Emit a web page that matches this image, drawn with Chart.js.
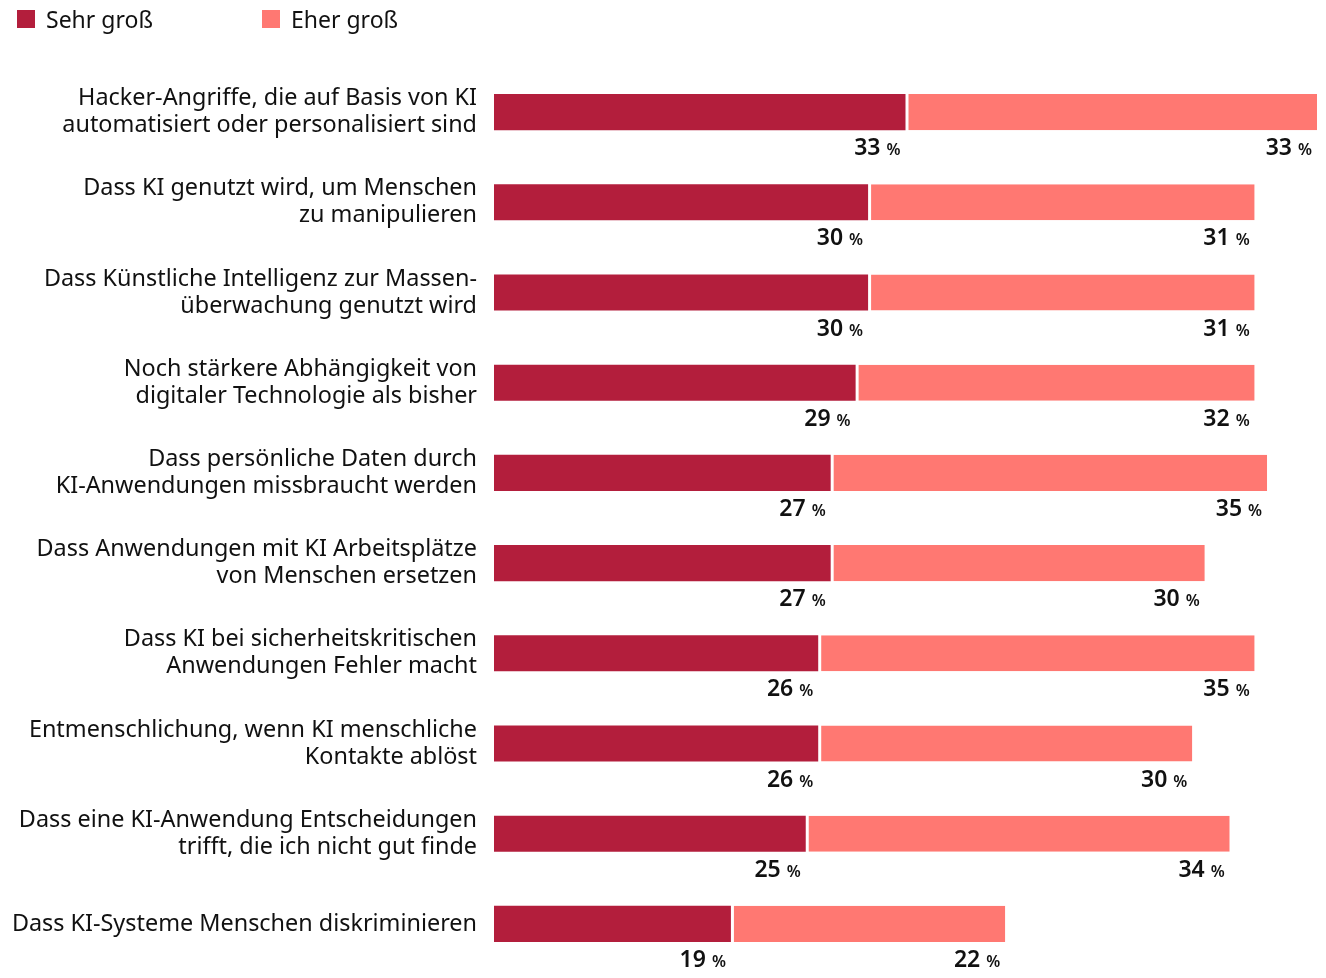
<!DOCTYPE html>
<html lang="de">
<head>
<meta charset="utf-8">
<script src="https://cdn.jsdelivr.net/npm/chart.js@4"></script>
<style>
  html, body { margin: 0; padding: 0; background: #fff; }
  #wrap { width: 1326px; height: 978px; position: relative; }
</style>
</head>
<body>
<div id="wrap"><canvas id="chart"></canvas></div>
<script>
// Kategorien (mehrzeilig wie im Original)
const categories = [
    ["Hacker-Angriffe, die auf Basis von KI", "automatisiert oder personalisiert sind"],
    ["Dass KI genutzt wird, um Menschen", "zu manipulieren"],
    ["Dass Künstliche Intelligenz zur Massen-", "überwachung genutzt wird"],
    ["Noch stärkere Abhängigkeit von", "digitaler Technologie als bisher"],
    ["Dass persönliche Daten durch", "KI-Anwendungen missbraucht werden"],
    ["Dass Anwendungen mit KI Arbeitsplätze", "von Menschen ersetzen"],
    ["Dass KI bei sicherheitskritischen", "Anwendungen Fehler macht"],
    ["Entmenschlichung, wenn KI menschliche", "Kontakte ablöst"],
    ["Dass eine KI-Anwendung Entscheidungen", "trifft, die ich nicht gut finde"],
    "Dass KI-Systeme Menschen diskriminieren"
];

const sehrGross = [33, 30, 30, 29, 27, 27, 26, 26, 25, 19];
const eherGross = [33, 31, 31, 32, 35, 30, 35, 30, 34, 22];

const seriesNames = ["Sehr groß", "Eher groß"];
const seriesColors = ["#b31e3c", "#ff7872"];

const FONT = "'Noto Sans', sans-serif";

// 🔹 Legende oben links
const legendPlugin = {
    id: "topLegend",
    afterDraw(chart) {
        const ctx = chart.ctx;
        const xs = [17, 262];
        ctx.save();
        ctx.font = "23px " + FONT;
        ctx.textBaseline = "alphabetic";
        ctx.textAlign = "left";
        seriesNames.forEach((name, i) => {
            ctx.fillStyle = seriesColors[i];
            ctx.fillRect(xs[i], 10, 18, 18);
            ctx.fillStyle = "#111";
            ctx.fillText(name, xs[i] + 29, 28);
        });
        ctx.restore();
    }
};

// 🔹 Werte unter den Balken, rechtsbündig am Balkenende
const valueLabels = {
    id: "valueLabels",
    afterDatasetsDraw(chart) {
        const ctx = chart.ctx;
        ctx.save();
        ctx.fillStyle = "#111";
        ctx.textBaseline = "alphabetic";
        ctx.textAlign = "right";
        chart.data.datasets.forEach((ds, di) => {
            const meta = chart.getDatasetMeta(di);
            meta.data.forEach((bar, i) => {
                const right = bar.x - 5;
                const base = bar.y + bar.height / 2 + 25;
                ctx.font = "600 16px " + FONT;
                ctx.fillText("%", right, base);
                const pw = ctx.measureText("%").width;
                ctx.font = "600 23px " + FONT;
                ctx.fillText(String(ds.data[i]), right - pw - 6, base);
            });
        });
        ctx.restore();
    }
};

new Chart(document.getElementById("chart"), {
    type: "bar",
    data: {
        labels: categories,
        datasets: [
            {
                label: seriesNames[0],
                data: sehrGross,
                backgroundColor: seriesColors[0],
                borderWidth: 0
            },
            {
                label: seriesNames[1],
                data: eherGross,
                backgroundColor: seriesColors[1],
                borderColor: "#ffffff",
                borderWidth: { left: 3, right: 0, top: 0, bottom: 0 },
                borderSkipped: false
            }
        ]
    },
    options: {
        indexAxis: "y",
        responsive: true,
        maintainAspectRatio: false,
        animation: false,
        layout: { padding: { top: 67, right: 9, bottom: 9, left: 0 } },
        datasets: { bar: { barPercentage: 0.4, categoryPercentage: 1 } },
        plugins: {
            legend: { display: false },
            tooltip: { enabled: false }
        },
        scales: {
            x: {
                stacked: true,
                min: 0,
                max: 66,
                display: false
            },
            y: {
                stacked: true,
                grid: { display: false, drawTicks: false },
                border: { display: false },
                ticks: {
                    color: "#111",
                    padding: 17,
                    font: { family: FONT, size: 23.4, lineHeight: 1.154 }
                },
                afterFit(scale) {
                    scale.width = 494;
                    scale.paddingTop = 0;
                    scale.paddingBottom = 0;
                }
            }
        }
    },
    plugins: [legendPlugin, valueLabels]
});
</script>
</body>
</html>
